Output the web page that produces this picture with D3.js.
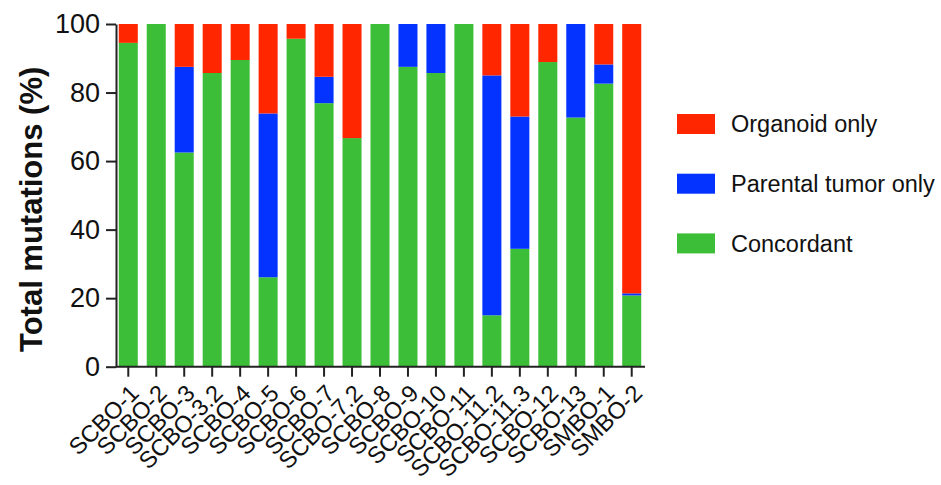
<!DOCTYPE html>
<html>
<head>
<meta charset="utf-8">
<script src="https://cdn.jsdelivr.net/npm/d3@7"></script>
<style>
  body { margin: 0; background: #fff; }
  svg { display: block; font-family: "Liberation Sans", Arial, Helvetica, sans-serif; }
</style>
</head>
<body>
<svg id="chart" width="941" height="485"></svg>
<script>
// Data (percent of total mutations)
const samples = ["SCBO-1", "SCBO-2", "SCBO-3", "SCBO-3.2", "SCBO-4", "SCBO-5", "SCBO-6", "SCBO-7",
  "SCBO-7.2", "SCBO-8", "SCBO-9", "SCBO-10", "SCBO-11", "SCBO-11.2", "SCBO-11.3", "SCBO-12",
  "SCBO-13", "SMBO-1", "SMBO-2"];
const concordant   = [94.5, 100, 62.5, 85.7, 89.5, 26.1, 95.7, 76.9, 66.7, 100, 87.5, 85.7, 100, 15.0, 34.4, 88.9, 72.7, 82.6, 20.8];
const parentalOnly = [0, 0, 25.0, 0, 0, 47.8, 0, 7.7, 0, 0, 12.5, 14.3, 0, 70.0, 38.6, 0, 27.3, 5.6, 0.6];
const organoidOnly = [5.5, 0, 12.5, 14.3, 10.5, 26.1, 4.3, 15.4, 33.3, 0, 0, 0, 0, 15.0, 27.0, 11.1, 0, 11.8, 78.6];
const yTicks = [0, 20, 40, 60, 80, 100];

// legend order (top to bottom) and colours
const seriesKeys = ["organoid", "parental", "concordant"];
const seriesLabels = ["Organoid only", "Parental tumor only", "Concordant"];
const colors = { organoid: "#ff2600", parental: "#0433ff", concordant: "#3dbe38" };

const svg = d3.select("#chart");

// build rows for the stack
const rows = samples.map((s, i) => ({
  sample: s,
  concordant: concordant[i],
  parental: parentalOnly[i],
  organoid: organoidOnly[i]
}));

const stack = d3.stack().keys(["concordant", "parental", "organoid"]);
const layers = stack(rows);

// scales
const x = d3.scaleBand()
  .domain(samples)
  .range([114.3, 645.7])
  .paddingInner(0.32)
  .paddingOuter(0.16);

const y = d3.scaleLinear()
  .domain([0, 100])
  .range([366.7, 24]);

// bars
svg.append("g")
  .selectAll("g")
  .data(layers)
  .join("g")
  .attr("fill", d => colors[d.key])
  .selectAll("rect")
  .data(d => d)
  .join("rect")
  .attr("x", d => x(d.data.sample))
  .attr("width", x.bandwidth())
  .attr("y", d => y(d[1]))
  .attr("height", d => y(d[0]) - y(d[1]));

// y axis
const yAxis = svg.append("g")
  .attr("transform", "translate(116,0)")
  .call(d3.axisLeft(y).tickValues(yTicks).tickSize(10).tickPadding(6).tickSizeOuter(0));
yAxis.select(".domain").attr("stroke", "#222").attr("stroke-width", 2);
yAxis.selectAll(".tick line").attr("stroke", "#222").attr("stroke-width", 2);
yAxis.selectAll(".tick text")
  .attr("font-size", 27)
  .attr("fill", "#111")
  .attr("font-family", "'Liberation Sans', Arial, sans-serif");

// x axis
const xAxis = svg.append("g")
  .attr("transform", `translate(0,${y(0)})`)
  .call(d3.axisBottom(x).tickSize(10).tickSizeOuter(0));
xAxis.select(".domain")
  .attr("d", `M116,0H${645}`)
  .attr("stroke", "#222").attr("stroke-width", 2);
xAxis.selectAll(".tick line").attr("stroke", "#222").attr("stroke-width", 2);
xAxis.selectAll(".tick text")
  .attr("font-size", 23.5)
  .attr("fill", "#111")
  .attr("font-family", "'Liberation Sans', Arial, sans-serif")
  .attr("text-anchor", "end")
  .attr("dy", null)
  .attr("y", null)
  .attr("transform", "translate(12,28) rotate(-45)");

// y axis title
svg.append("text")
  .attr("transform", `translate(42,${(y(0) + y(100)) / 2 + 14}) rotate(-90)`)
  .attr("text-anchor", "middle")
  .attr("font-size", 31)
  .attr("font-weight", "bold")
  .attr("fill", "#111")
  .text("Total mutations (%)");

// legend
const legend = svg.append("g")
  .selectAll("g")
  .data(seriesKeys)
  .join("g")
  .attr("transform", (d, i) => `translate(677,${114 + i * 59.7})`);

legend.append("rect")
  .attr("width", 38)
  .attr("height", 20)
  .attr("fill", d => colors[d]);

legend.append("text")
  .attr("x", 54)
  .attr("y", 10)
  .attr("dy", "0.36em")
  .attr("font-size", 23.5)
  .attr("fill", "#111")
  .text((d, i) => seriesLabels[i]);
</script>
</body>
</html>
